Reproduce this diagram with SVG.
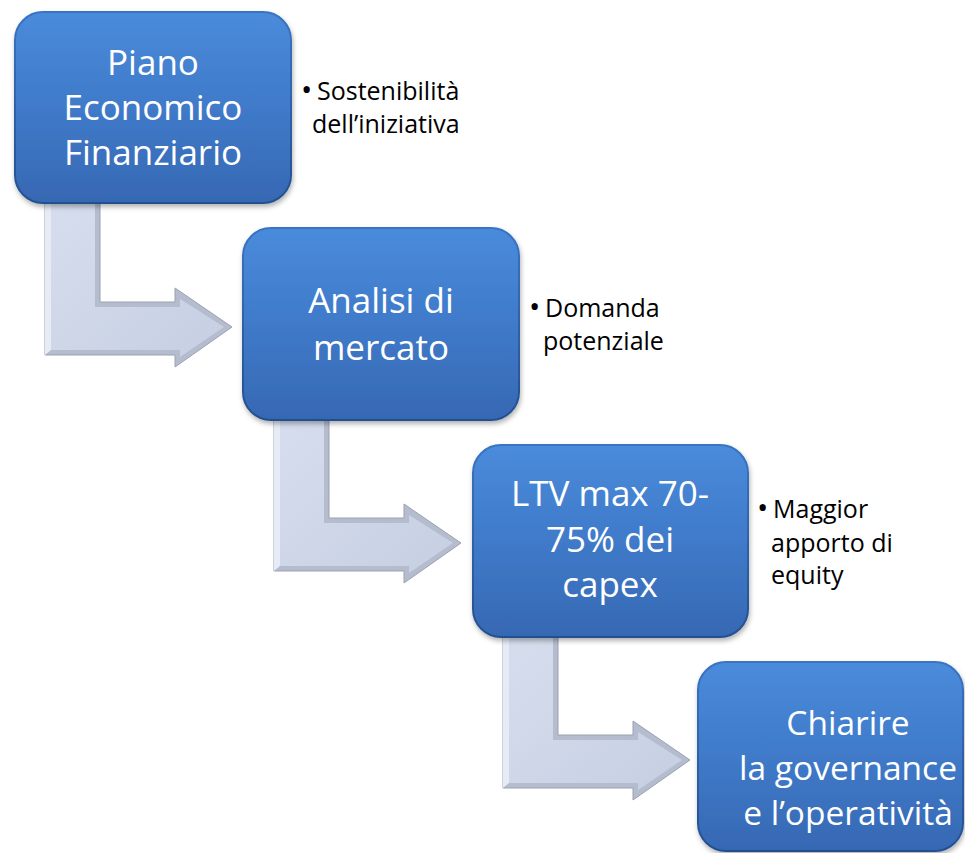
<svg xmlns="http://www.w3.org/2000/svg" width="965" height="853" viewBox="0 0 965 853">
<defs>
<linearGradient id="boxg" x1="0" y1="0" x2="0" y2="1">
<stop offset="0" stop-color="#4a8bdb"/>
<stop offset="0.5" stop-color="#3f7ac9"/>
<stop offset="1" stop-color="#3668b3"/>
</linearGradient>
<linearGradient id="boxedge" x1="0" y1="0" x2="0" y2="1">
<stop offset="0" stop-color="#3a74c2"/>
<stop offset="1" stop-color="#24508e"/>
</linearGradient>
<linearGradient id="arrg" x1="0" y1="0" x2="1" y2="1">
<stop offset="0" stop-color="#d6deee"/>
<stop offset="1" stop-color="#c6cfe2"/>
</linearGradient>
<filter id="sh" x="-10%" y="-10%" width="130%" height="130%">
<feDropShadow dx="1" dy="3" stdDeviation="2.5" flood-color="#000" flood-opacity="0.3"/>
</filter>
<g id="arrow">
<path d="M30,180 L85,180 L85,290 L160,290 L160,276 L217,315 L160,355 L160,343 L30,343 Z" fill="#b4bccd" stroke="#9aa2b4" stroke-width="1"/>
<path d="M36,180 L80,180 L80,295 L165,295 L165,287 L209,315 L165,345 L165,338 L36,338 Z" fill="url(#arrg)"/>
<path d="M30,180 L36,180 L36,338 L30,343 Z" fill="#e6ebf5"/>
</g>
</defs>
<style>
.box{fill:url(#boxg);stroke:url(#boxedge);stroke-width:2;filter:url(#sh)}
.bt{font-family:"Open Sans","Noto Sans","Liberation Sans",sans-serif;font-size:35px;fill:#ffffff;text-anchor:middle}
.sm{font-size:33.5px}
.st{font-family:"Open Sans","Noto Sans","Liberation Sans",sans-serif;font-size:25px;fill:#000000}
.bl{font-size:30px}
</style>
<g id="connectors">
<use href="#arrow" transform="translate(15,12)"/>
<use href="#arrow" transform="translate(244,228)"/>
<use href="#arrow" transform="translate(473,445)"/>
</g>
<g id="node1">
<rect class="box" x="15" y="12" width="276" height="191" rx="28"/>
<text class="bt" x="153" y="75">Piano</text>
<text class="bt" x="153" y="120">Economico</text>
<text class="bt" x="153" y="165">Finanziario</text>
</g>
<g id="note1">
<text class="st" y="100"><tspan class="bl" x="301">•</tspan><tspan x="317">Sostenibilità</tspan></text>
<text class="st" x="312" y="133">dell’iniziativa</text>
</g>
<g id="node2">
<rect class="box" x="243" y="228" width="276" height="192" rx="28"/>
<text class="bt" x="381" y="313">Analisi di</text>
<text class="bt" x="381" y="360">mercato</text>
</g>
<g id="note2">
<text class="st" y="317"><tspan class="bl" x="529">•</tspan><tspan x="545">Domanda</tspan></text>
<text class="st" x="543" y="350">potenziale</text>
</g>
<g id="node3">
<rect class="box" x="473" y="445" width="275" height="192" rx="28"/>
<text class="bt" x="610" y="506">LTV max 70-</text>
<text class="bt" x="610" y="552">75% dei</text>
<text class="bt" x="610" y="597">capex</text>
</g>
<g id="note3">
<text class="st" y="518"><tspan class="bl" x="757">•</tspan><tspan x="773">Maggior</tspan></text>
<text class="st" x="771" y="552">apporto di</text>
<text class="st" x="771" y="584">equity</text>
</g>
<g id="node4">
<rect class="box" x="698" y="662" width="265" height="189" rx="28"/>
<text class="bt sm" x="848" y="735">Chiarire</text>
<text class="bt sm" x="848" y="780">la governance</text>
<text class="bt sm" x="848" y="825">e l’operatività</text>
</g>
</svg>
